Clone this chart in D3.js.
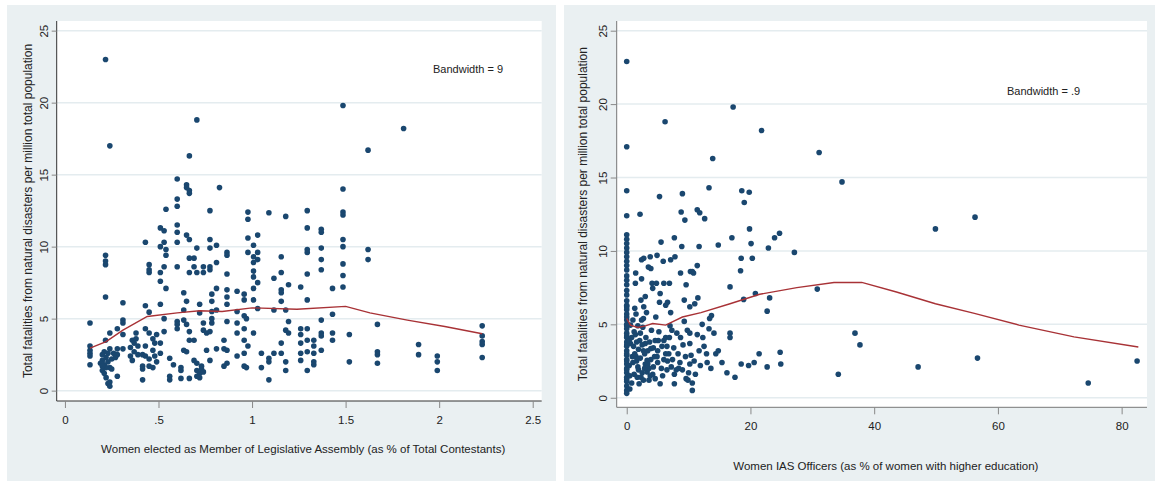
<!DOCTYPE html>
<html>
<head>
<meta charset="utf-8">
<script src="https://cdn.jsdelivr.net/npm/d3@7"></script>
<style>
  body { margin: 0; background: #fff; }
  text { font-family: "Liberation Sans", Arial, sans-serif; fill: #222; }
</style>
</head>
<body>
<svg id="chart" width="1155" height="481"></svg>
<script>
// y ticks shared by both panels
const yTicks = [0, 5, 10, 15, 20, 25];
const mlaXTicks = [0, 0.5, 1, 1.5, 2, 2.5];
const mlaXLabels = ['0', '.5', '1', '1.5', '2', '2.5'];
const iasXTicks = [0, 20, 40, 60, 80];

const yTitle = 'Total fatalities from natural disasters per million total population';

// left panel: women MLAs (x) vs fatalities (y)
const mlaPoints = [
	[0.134, 4.7], [0.134, 3.1], [0.134, 2.8], [0.134, 2.6], [0.134, 2.4], [0.134, 1.8],
	[0.217, 23.0], [0.217, 9.4], [0.217, 9.0], [0.217, 8.75], [0.217, 6.5], [0.217, 3.5],
	[0.2, 2.1], [0.21, 1.8], [0.22, 2.3], [0.2, 1.4], [0.21, 1.2], [0.23, 2.6], [0.24, 1.6],
	[0.22, 0.9], [0.23, 0.5], [0.24, 0.3], [0.25, 1.5], [0.22, 1.6], [0.26, 2.6], [0.21, 2.7],
	[0.19, 1.9], [0.2, 2.5], [0.23, 2.0], [0.25, 2.2], [0.2, 1.7], [0.24, 0.6],
	[0.24, 17.0], [0.24, 4.0], [0.24, 2.9],
	[0.28, 4.3], [0.28, 2.9], [0.28, 2.5], [0.28, 1.0], [0.27, 2.3],
	[0.31, 6.1], [0.31, 4.9], [0.31, 4.7], [0.31, 3.9], [0.31, 2.9],
	[0.35, 3.0], [0.35, 2.4], [0.36, 3.5], [0.36, 2.1], [0.37, 3.3], [0.37, 2.7], [0.38, 4.0],
	[0.38, 3.6], [0.39, 3.1], [0.39, 2.5],
	[0.415, 0.75], [0.415, 2.5], [0.415, 1.7], [0.415, 1.5],
	[0.43, 10.3], [0.43, 5.9], [0.43, 4.3], [0.43, 3.1], [0.43, 2.4],
	[0.45, 8.75], [0.45, 8.4], [0.45, 8.2], [0.45, 5.45], [0.45, 4.0], [0.45, 2.2], [0.45, 1.7],
	[0.47, 3.6], [0.47, 2.8], [0.48, 3.3], [0.48, 2.4], [0.49, 3.9], [0.49, 2.0], [0.47, 1.6],
	[0.51, 11.3], [0.51, 10.0], [0.51, 8.2], [0.51, 7.6], [0.51, 6.0], [0.51, 3.3], [0.51, 2.6],
	[0.53, 11.1], [0.53, 10.3], [0.54, 9.8], [0.54, 9.4], [0.53, 8.6], [0.54, 7.1], [0.53, 5.0], [0.53, 4.1],
	[0.54, 12.6], [0.56, 2.25], [0.56, 1.0], [0.56, 0.75], [0.58, 1.8],
	[0.6, 14.7], [0.6, 13.3], [0.6, 12.8], [0.6, 11.5], [0.6, 11.0], [0.6, 10.3], [0.6, 8.6],
	[0.6, 4.8], [0.6, 4.6], [0.6, 4.3],
	[0.62, 1.4], [0.62, 0.85], [0.62, 1.6], [0.635, 6.8], [0.635, 5.6], [0.635, 4.9], [0.635, 2.8],
	[0.65, 14.3], [0.65, 14.1], [0.65, 10.8], [0.65, 6.2], [0.65, 4.6], [0.65, 2.7],
	[0.665, 16.3], [0.665, 13.9], [0.665, 13.7], [0.665, 10.5], [0.665, 9.2], [0.665, 8.2],
	[0.665, 4.1], [0.665, 3.5], [0.665, 0.85],
	[0.69, 9.2], [0.69, 8.6], [0.69, 3.5], [0.69, 2.1],
	[0.705, 18.8], [0.705, 9.9], [0.705, 8.2], [0.705, 1.9], [0.705, 1.4], [0.705, 1.0],
	[0.72, 6.0], [0.72, 5.4], [0.72, 1.2], [0.73, 1.5], [0.73, 1.7], [0.72, 0.9], [0.74, 1.3],
	[0.74, 8.6], [0.74, 8.2], [0.74, 4.7], [0.74, 4.2], [0.757, 4.0], [0.757, 2.8],
	[0.775, 12.5], [0.775, 10.5], [0.775, 9.9], [0.775, 8.6], [0.775, 8.4], [0.775, 4.1], [0.775, 2.1],
	[0.785, 6.7], [0.785, 6.2], [0.785, 5.5], [0.785, 5.0], [0.785, 4.7],
	[0.81, 10.1], [0.81, 8.9], [0.81, 7.1], [0.81, 5.6], [0.81, 2.9], [0.826, 14.1],
	[0.85, 3.5], [0.85, 2.9], [0.85, 1.7],
	[0.866, 9.6], [0.866, 9.4], [0.866, 8.1], [0.866, 7.0], [0.866, 6.5], [0.866, 6.0],
	[0.866, 4.8], [0.866, 2.8], [0.866, 1.9],
	[0.92, 6.9], [0.92, 5.5], [0.92, 4.7], [0.92, 4.0], [0.92, 2.4],
	[0.958, 6.7], [0.958, 6.3], [0.958, 5.2], [0.958, 4.3], [0.958, 3.5], [0.958, 2.6], [0.958, 1.7],
	[0.97, 1.6], [0.97, 5.0],
	[0.978, 12.4], [0.978, 11.9], [0.978, 10.6], [0.978, 9.6], [0.978, 3.1],
	[1.008, 10.1], [1.008, 9.3], [1.008, 8.9], [1.008, 8.3], [1.008, 7.9], [1.008, 7.1], [1.008, 6.3], [1.008, 4.0],
	[1.03, 10.8], [1.03, 9.6], [1.03, 9.1], [1.03, 7.5], [1.03, 5.7],
	[1.05, 1.6], [1.05, 2.6],
	[1.09, 12.35], [1.09, 0.75], [1.09, 2.25], [1.09, 2.0],
	[1.117, 7.8], [1.117, 5.6], [1.117, 2.6],
	[1.156, 9.3], [1.156, 8.2], [1.156, 7.0], [1.156, 6.8], [1.156, 6.2], [1.156, 3.3], [1.156, 2.6],
	[1.18, 12.1], [1.18, 5.6], [1.18, 4.2], [1.18, 2.0], [1.18, 1.4],
	[1.195, 7.35], [1.195, 4.8], [1.195, 4.0],
	[1.26, 7.2], [1.26, 4.3], [1.26, 3.9], [1.26, 3.3], [1.26, 2.6], [1.26, 2.1],
	[1.295, 12.5], [1.295, 11.3], [1.295, 9.8], [1.295, 9.6], [1.295, 8.1], [1.295, 6.3],
	[1.295, 4.3], [1.295, 3.5], [1.295, 2.7], [1.295, 1.4],
	[1.33, 3.5], [1.33, 3.1], [1.33, 2.6], [1.33, 2.0], [1.33, 1.8],
	[1.37, 11.2], [1.37, 11.0], [1.37, 9.9], [1.37, 9.1], [1.37, 8.4], [1.37, 4.9], [1.37, 4.0],
	[1.37, 3.8], [1.37, 2.8],
	[1.43, 7.1], [1.43, 5.3], [1.43, 4.0], [1.43, 3.5],
	[1.486, 19.8], [1.486, 14.0], [1.486, 12.4], [1.486, 12.2], [1.486, 10.5], [1.486, 10.0],
	[1.486, 8.8], [1.486, 8.0], [1.486, 7.2],
	[1.52, 3.9], [1.52, 2.0],
	[1.62, 16.7], [1.62, 9.8], [1.62, 9.1],
	[1.67, 4.6], [1.67, 2.7], [1.67, 2.5], [1.67, 1.9],
	[1.81, 18.2],
	[1.89, 3.2], [1.89, 2.5],
	[1.99, 2.4], [1.99, 2.0], [1.99, 1.4],
	[2.23, 4.5], [2.23, 3.8], [2.23, 3.4], [2.23, 3.2], [2.23, 2.3]
];

const mlaLowess = [
	[0.134, 2.95], [0.22, 3.4], [0.31, 4.2], [0.44, 5.15], [0.6, 5.4], [0.72, 5.55],
	[0.84, 5.5], [1.0, 5.75], [1.24, 5.65], [1.5, 5.85], [1.63, 5.4], [1.83, 4.9],
	[2.03, 4.45], [2.23, 3.95]
];

// right panel: women IAS officers (x) vs fatalities (y)
const iasPoints = [
	[0, 22.9], [0, 17.1], [0, 14.1], [0, 12.4], [0, 11.1], [0, 10.8], [0, 10.5], [0, 10.2],
	[0, 9.9], [0, 9.6], [0, 9.3], [0, 9.0], [0, 8.7], [0, 8.3], [0, 8.0], [0, 7.7], [0, 7.3],
	[0, 7.0], [0, 6.6], [0, 6.3], [0, 6.0], [0, 5.7], [0, 5.3], [0, 5.0], [0, 4.7], [0, 4.4],
	[0, 4.1], [0, 3.8], [0, 3.5], [0, 3.2], [0, 2.9], [0, 2.6], [0, 2.3], [0, 2.0], [0, 1.7],
	[0, 1.4], [0, 1.1], [0, 0.8], [0, 0.5], [0, 0.3],
	[0.5, 0.6], [0.6, 4.95], [0.6, 3.7], [0.9, 2.8], [1.1, 3.5], [1.2, 4.5], [1.2, 1.6],
	[1.4, 4.3], [1.4, 7.8], [1.45, 8.5], [1.5, 5.7], [1.5, 2.8], [1.7, 1.4], [1.8, 4.9], [1.8, 2.1],
	[2.0, 0.95], [2.1, 3.9], [2.15, 12.5], [2.3, 6.65], [2.3, 1.4], [2.4, 9.4], [2.4, 8.1],
	[2.4, 5.3], [2.7, 5.4], [2.7, 3.2], [2.7, 1.2], [2.75, 9.5], [2.75, 6.2], [3.0, 6.9],
	[3.0, 3.7], [3.0, 2.3], [3.3, 1.75], [3.3, 2.55], [3.5, 8.9], [3.6, 1.2], [3.6, 2.0],
	[3.8, 9.6], [3.9, 8.8], [3.9, 3.35], [4.1, 7.8], [4.2, 7.45], [4.2, 1.6], [4.5, 2.8],
	[4.8, 7.8], [4.9, 9.7], [4.9, 2.8], [5.1, 3.9], [5.3, 6.5], [5.3, 13.7], [5.4, 7.1],
	[5.4, 0.95], [5.55, 10.6], [5.9, 9.3], [6.0, 7.8], [6.0, 3.9], [6.2, 18.8], [6.3, 6.3],
	[6.3, 4.1], [6.3, 3.0], [6.6, 6.5], [6.6, 2.5], [6.9, 7.8], [6.9, 4.1], [7.1, 5.8],
	[7.1, 9.4], [7.2, 2.1], [7.3, 4.6], [7.7, 1.6], [7.7, 0.95], [7.7, 10.9], [7.8, 9.6],
	[8.4, 2.0], [8.7, 8.5], [8.7, 4.1], [8.8, 12.65], [8.9, 10.3], [9.0, 13.9], [9.0, 1.9],
	[9.3, 6.65], [9.3, 5.2], [9.4, 12.1], [9.6, 7.7], [9.6, 1.3], [9.9, 1.2], [10.2, 6.2],
	[10.2, 4.4], [10.2, 3.7], [10.2, 2.3], [10.3, 8.6], [10.6, 8.6], [10.6, 1.0], [10.6, 0.5],
	[10.8, 8.5], [11.0, 6.4], [11.4, 12.8], [11.4, 9.0], [11.4, 4.3], [11.5, 6.8], [11.7, 10.3],
	[11.7, 3.2], [11.8, 12.6], [12.3, 4.1], [12.6, 12.2], [12.9, 3.0], [13.3, 14.3], [13.3, 4.7],
	[13.4, 5.4], [13.7, 5.6], [13.9, 16.3], [14.1, 4.4], [14.4, 3.0], [14.8, 10.4], [14.8, 3.2],
	[15.4, 2.4], [16.2, 1.7], [16.7, 7.55], [16.7, 4.1], [16.7, 4.4], [17.0, 10.9], [17.2, 19.8],
	[17.5, 1.4], [18.4, 8.65], [18.5, 9.5], [18.5, 2.3], [18.6, 14.1], [18.9, 6.7], [19.0, 13.3],
	[19.7, 2.2], [19.8, 14.0], [19.85, 11.5], [20.1, 10.5], [20.3, 9.5], [20.6, 2.4], [20.8, 7.1],
	[21.4, 3.0], [21.8, 18.2], [22.7, 5.9], [22.7, 2.1], [22.9, 10.2], [23.1, 6.8], [23.9, 10.9],
	[24.7, 11.2], [24.8, 3.1], [24.9, 2.3], [27.1, 9.9], [30.8, 7.4], [31.1, 16.7], [34.2, 1.6],
	[34.8, 14.7], [36.9, 4.4], [37.7, 3.6], [47.1, 2.1], [49.9, 11.5], [56.3, 12.3], [56.7, 2.7],
	[74.6, 1.0], [82.5, 2.5],
	// dense low cluster
	[0, 6.2], [0, 5.5], [0, 4.9], [0, 4.2], [0, 3.6], [0, 3.0], [0, 2.5], [0, 1.9], [0, 1.25],
	[0.4, 3.9], [0.4, 2.2], [0.5, 1.5], [0.8, 4.1], [0.8, 1.0], [1.0, 5.3], [1.0, 2.4],
	[1.3, 3.0], [1.3, 6.1], [1.6, 3.8], [1.6, 2.5], [1.9, 3.3], [1.9, 1.9], [2.2, 2.7], [2.2, 4.4],
	[2.5, 1.7], [2.5, 3.6], [2.6, 4.8], [2.9, 2.0], [2.9, 3.0], [3.1, 4.1], [3.2, 5.8], [3.4, 3.2],
	[3.4, 2.3], [3.7, 3.8], [3.8, 1.5], [3.9, 2.6], [4.0, 4.6], [4.3, 3.4], [4.3, 2.1], [4.6, 3.9],
	[4.6, 1.3], [4.7, 5.5], [5.0, 2.4], [5.0, 3.2], [5.2, 4.5], [5.6, 2.0], [5.7, 3.5], [5.8, 1.5],
	[6.0, 2.6], [6.5, 3.5], [6.5, 1.9], [6.8, 3.0], [7.0, 4.9], [7.4, 2.6], [7.6, 3.4], [8.0, 1.9],
	[8.1, 4.4], [8.3, 3.0], [8.6, 2.4], [9.1, 3.6], [9.5, 2.8], [9.8, 4.6], [10.0, 1.7], [10.4, 2.9],
	[10.9, 2.5], [11.1, 1.6], [11.9, 2.2], [12.2, 5.0], [13.0, 2.4], [13.6, 2.0], [12.5, 3.5]
];

const iasLowess = [
	[0, 5.4], [0.6, 4.95], [1.8, 4.79], [3.0, 4.9], [4.2, 5.06], [6.3, 4.95], [9.0, 5.5],
	[12, 5.8], [16.7, 6.4], [21.5, 7.05], [27.5, 7.5], [33.5, 7.85], [38, 7.86], [43.6, 7.2],
	[49.9, 6.4], [56.2, 5.75], [63.4, 4.95], [72.3, 4.15], [82.7, 3.46]
];

const svg = d3.select('#chart');

const panels = [
	{
		bg: [7, 5, 549, 476],
		x: d3.scaleLinear().domain([-0.044, 2.548]).range([56.7, 541.7]),
		y: d3.scaleLinear().domain([-0.72, 25.67]).range([401, 21]),
		xTicks: mlaXTicks, xLabels: mlaXLabels,
		points: mlaPoints, lowess: mlaLowess,
		axisColor: '#333', yTickSize: 5,
		xLabelY: 424, xTitle: 'Women elected as Member of Legislative Assembly (as % of Total Contestants)',
		xTitleY: 453, yTitleX: 32, yTitle: yTitle,
		band: 'Bandwidth = 9', bandX: 433, bandY: 73
	},
	{
		bg: [564, 5, 591, 476],
		x: d3.scaleLinear().domain([-1.62, 84.1]).range([616.7, 1147]),
		y: d3.scaleLinear().domain([-0.65, 25.66]).range([407.3, 21]),
		xTicks: iasXTicks, xLabels: iasXTicks.map(String),
		points: iasPoints, lowess: iasLowess,
		axisColor: '#777', yTickSize: 6,
		xLabelY: 430, xTitle: 'Women IAS Officers (as % of women with higher education)',
		xTitleY: 470, yTitleX: 587, yTitle: 'Total  fatalities from natural disasters per million total population',
		band: 'Bandwidth = .9', bandX: 1007, bandY: 95
	}
];

panels.forEach((p) => {
	const g = svg.append('g');
	const [x0, x1] = p.x.range();
	const [yb, yt] = p.y.range();

	g.append('rect')
		.attr('x', p.bg[0]).attr('y', p.bg[1])
		.attr('width', p.bg[2]).attr('height', p.bg[3])
		.attr('fill', '#eaf0f2');

	g.append('rect')
		.attr('x', x0).attr('y', yt)
		.attr('width', x1 - x0).attr('height', yb - yt)
		.attr('fill', '#fff');

	// gridlines
	g.selectAll('.grid')
		.data(yTicks)
		.enter()
		.append('line')
		.attr('x1', x0).attr('x2', x1)
		.attr('y1', (d) => p.y(d)).attr('y2', (d) => p.y(d))
		.attr('stroke', '#e4ecef')
		.attr('stroke-width', 1.5);

	// y axis
	const yAxis = g.append('g')
		.attr('transform', `translate(${x0},0)`)
		.call(d3.axisLeft(p.y).tickValues(yTicks).tickSize(p.yTickSize).tickPadding(9));
	yAxis.select('.domain').attr('stroke', p.axisColor).attr('d', `M0,${yb}V${yt}`);
	yAxis.selectAll('.tick line').attr('stroke', '#888');
	yAxis.selectAll('.tick text')
		.attr('transform', 'rotate(-90)')
		.attr('x', 0).attr('y', -p.yTickSize - 4).attr('dy', 0)
		.attr('text-anchor', 'middle')
		.attr('font-size', 11.5)
		.attr('fill', '#333');

	// x axis
	const xAxis = g.append('g')
		.attr('transform', `translate(0,${yb})`)
		.call(d3.axisBottom(p.x).tickValues(p.xTicks).tickSize(7)
			.tickFormat((d, i) => p.xLabels[i]));
	xAxis.select('.domain').attr('stroke', p.axisColor).attr('d', `M${x0},0H${x1}`);
	xAxis.selectAll('.tick line').attr('stroke', '#888');
	xAxis.selectAll('.tick text')
		.attr('y', p.xLabelY - yb).attr('dy', 0)
		.attr('font-size', 11.5)
		.attr('fill', '#333');

	svg.selectAll('.domain, .tick text').attr('font-family', null);

	// titles
	g.append('text')
		.attr('x', (x0 + x1) / 2 + 4).attr('y', p.xTitleY)
		.attr('text-anchor', 'middle')
		.attr('font-size', 11.5)
		.attr('fill', '#333')
		.text(p.xTitle);

	g.append('text')
		.attr('transform', `translate(${p.yTitleX},${(yb + yt) / 2}) rotate(-90)`)
		.attr('text-anchor', 'middle')
		.attr('font-size', 12)
		.attr('fill', '#222')
		.text(p.yTitle);

	g.append('text')
		.attr('x', p.bandX).attr('y', p.bandY)
		.attr('font-size', 11)
		.attr('fill', '#222')
		.text(p.band);

	// points
	g.selectAll('.pt')
		.data(p.points)
		.enter()
		.append('circle')
		.attr('cx', (d) => p.x(d[0]))
		.attr('cy', (d) => p.y(d[1]))
		.attr('r', 2.8)
		.attr('fill', '#1a476f');

	// lowess line
	g.append('path')
		.datum(p.lowess)
		.attr('fill', 'none')
		.attr('stroke', '#a83236')
		.attr('stroke-width', 1.4)
		.attr('d', d3.line().x((d) => p.x(d[0])).y((d) => p.y(d[1])));
});
</script>
</body>
</html>
